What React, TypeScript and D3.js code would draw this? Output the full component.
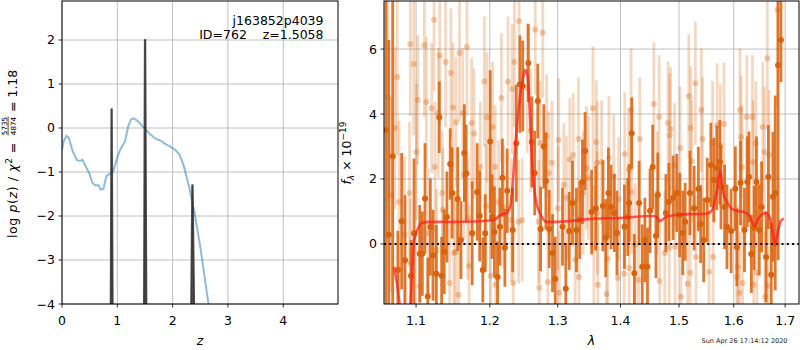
import * as d3 from 'd3'

// log p(z) curve (blue)
const zGrid = [0, 0.03, 0.08, 0.12, 0.2, 0.27, 0.33, 0.37, 0.42, 0.5, 0.55, 0.6, 0.66, 0.7, 0.75, 0.8, 0.85, 0.92, 0.98, 1.05, 1.14, 1.2, 1.25, 1.3, 1.38, 1.45, 1.5, 1.6, 1.7, 1.8, 1.85, 1.95, 2.05, 2.12, 2.2, 2.3, 2.4, 2.5, 2.58, 2.66]
const logPz = [-0.5, -0.3, -0.18, -0.22, -0.55, -0.73, -0.75, -0.72, -0.85, -1.05, -1.25, -1.3, -1.3, -1.4, -1.38, -1.1, -1.05, -1.0, -0.75, -0.5, -0.3, 0.05, 0.2, 0.22, 0.15, 0.05, -0.02, -0.15, -0.25, -0.3, -0.35, -0.42, -0.5, -0.6, -0.85, -1.35, -1.95, -2.7, -3.4, -4.1]

// zoomed fit peaks (dark spikes)
const spikes: [number, number][][] = [
  [[0.878, -4.2], [0.893, 0.43], [0.902, 0.43], [0.918, -4.2]],
  [[1.48, -4.2], [1.497, 2.0], [1.507, 2.0], [1.528, -4.2]],
  [[2.333, -4.2], [2.353, -1.3], [2.364, -1.3], [2.392, -4.2]],
]

const zTicks = [0, 1, 2, 3, 4]
const pTicks = [-4, -3, -2, -1, 0, 1, 2]
const lamTicks = [1.1, 1.2, 1.3, 1.4, 1.5, 1.6, 1.7]
const fTicks = [0, 2, 4, 6]

// spectrum, first orientation: [lambda, flux, err]
const specDark: [number, number, number][] = [
  [1.0617, 3.5, 6], [1.0652, 0.28, 6], [1.0701, 2.7, 5], [1.0767, -0.8, 1.2], [1.0815, 0.7, 2.1],
  [1.0858, -0.5, 2.0], [1.0935, -0.98, 1.1], [1.0974, 0.33, 2.3], [1.1048, -0.3, 1.5], [1.1082, -0.3, 1.3],
  [1.1117, 1.4, 1.7], [1.1153, -1.62, 1.2], [1.1187, 0.52, 1.5], [1.1222, -0.35, 1.4], [1.1265, -0.92, 1.5],
  [1.1306, 3.9, 1.1], [1.1337, -0.98, 1.2], [1.1372, -0.24, 1.3], [1.1408, 0.83, 1.4], [1.1452, 2.46, 1.1],
  [1.1478, 1.57, 1.4], [1.1554, 1.38, 1.6], [1.1598, 0.12, 1.2], [1.1645, 2.8, 1.5], [1.167, 2.17, 1.5],
  [1.1753, 0.33, 1.6], [1.1823, 1.6, 1.5], [1.1857, 0.86, 1.4], [1.1901, -0.8, 1.0], [1.1935, 0.33, 1.2],
  [1.2005, 3.15, 2.2], [1.2031, 0.84, 1.3], [1.2065, 0.37, 1.4], [1.211, -1.02, 1.1], [1.2144, 0.53, 1.2],
  [1.2179, 2.04, 1.2], [1.2215, -0.12, 1.2], [1.2249, 1.64, 1.3], [1.2328, 0.43, 1.3], [1.2381, 3.1, 1.8],
  [1.2434, 4.92, 1.5], [1.2475, 4.86, 1.4], [1.2558, 5.57, 1.2], [1.2609, 3.14, 1.4], [1.2652, 2.18, 1.3],
  [1.2698, 4.4, 1.15], [1.2741, 0.46, 1.3], [1.2789, 3.0, 1.3], [1.282, 1.94, 1.5], [1.2871, 0.46, 1.2],
  [1.2921, -0.28, 1.2], [1.2962, -1.08, 1.3], [1.3074, 0.53, 1.2], [1.3125, -1.38, 1.4], [1.3178, 0.4, 1.2],
  [1.3229, 1.26, 1.3], [1.3291, 0.43, 1.3], [1.3343, 0.74, 1.2], [1.3385, 1.91, 1.3], [1.3427, 2.86, 1.2],
  [1.3531, 0.98, 1.3], [1.3597, 1.1, 1.3], [1.3713, 1.17, 1.4], [1.3757, 0.18, 1.2], [1.3801, 1.57, 1.4],
  [1.3844, 1.14, 1.3], [1.3898, 0.95, 1.2], [1.3941, 0.34, 1.3], [1.4065, 0.53, 1.3], [1.412, 0.83, 1.2],
  [1.4142, 1.26, 1.2], [1.4186, 3.41, 1.1], [1.423, -0.9, 1.2], [1.431, 1.26, 1.3], [1.4363, -0.7, 1.3],
  [1.4408, 0.12, 1.3], [1.4452, -0.7, 1.2], [1.4496, 1.02, 1.3], [1.4541, 2.37, 1.3], [1.4597, 0.25, 1.3],
  [1.463, 1.51, 1.3], [1.4769, 0.95, 1.2], [1.4822, 1.29, 1.2], [1.4896, 1.42, 1.3], [1.496, 1.57, 1.2],
  [1.5012, 0.89, 1.3], [1.5066, 0.34, 1.3], [1.5109, 0.68, 1.2], [1.5194, 1.57, 1.3], [1.527, 1.1, 1.3],
  [1.5346, 1.69, 1.3], [1.5388, 0.61, 1.2], [1.5443, 0.12, 1.3], [1.5508, 1.35, 1.3], [1.5574, 2.43, 1.3],
  [1.5628, 1.97, 1.3], [1.5683, 2.34, 1.3], [1.5739, 2.52, 1.3], [1.5761, 1.75, 1.3], [1.5828, 1.14, 1.3],
  [1.5873, 0.53, 1.3], [1.595, 0.4, 1.3], [1.603, 1.7, 1.3], [1.606, -0.1, 1.2], [1.6128, 1.88, 1.3],
  [1.6204, 0.43, 1.3], [1.6258, 1.91, 1.4], [1.6291, 2.06, 1.4], [1.6335, -0.31, 1.2], [1.639, 0.49, 1.3],
  [1.6434, 1.91, 1.4], [1.6489, 0.43, 1.4], [1.6534, 1.14, 1.4], [1.6622, -0.4, 1.4], [1.6667, 2.06, 1.6],
  [1.6723, -0.95, 1.6], [1.6757, 1.45, 2.0], [1.6802, 1.57, 3.0], [1.6859, 5.5, 6], [1.6916, 6.28, 1.3],
]

// spectrum, second orientation (faint)
const specLight: [number, number, number][] = [
  [1.064, 4.5, 3.2], [1.068, 1.5, 3.0], [1.0728, 3.57, 2.5], [1.0757, 5.14, 2.4], [1.0781, 1.29, 2.5],
  [1.085, 0.28, 2.4], [1.0915, 1.57, 2.2], [1.0926, 6.15, 2.2], [1.093, -0.6, 2.0], [1.097, 5.54, 2.2],
  [1.1004, 2.83, 2.1], [1.1022, 4.43, 2.0], [1.105, -1.3, 2.0], [1.1109, 6.12, 2.2], [1.1134, 4.37, 2.0],
  [1.116, 0.33, 2.0], [1.1205, 4.18, 2.0], [1.1236, 6.9, 2.2], [1.1249, 2.37, 2.0], [1.127, -0.2, 1.9],
  [1.1293, 4.03, 2.0], [1.1312, 5.8, 2.1], [1.1345, 1.57, 1.9], [1.1354, 1.05, 1.9], [1.1391, 5.6, 2.0],
  [1.1445, -1.2, 1.9], [1.1461, 5.26, 2.0], [1.149, 4.2, 2.0], [1.1502, -0.28, 1.9], [1.1525, -0.25, 1.9],
  [1.1532, 3.75, 2.0], [1.1565, -1.57, 1.9], [1.1578, 5.88, 2.1], [1.1623, 4.03, 2.0], [1.1641, 2.12, 2.0],
  [1.168, 6.06, 2.1], [1.1693, 0.8, 1.9], [1.1711, -0.68, 1.9], [1.1745, 3.72, 2.0], [1.1779, 3.4, 2.0],
  [1.1867, 2.37, 2.0], [1.1923, 5.0, 2.0], [1.1945, 1.17, 1.9], [1.196, 3.9, 2.0], [1.2013, -0.98, 1.9],
  [1.204, 3.6, 2.0], [1.2075, 2.37, 1.9], [1.2083, -1.26, 1.9], [1.2125, 1.29, 1.9], [1.2165, 4.49, 2.0],
  [1.2196, 1.14, 1.9], [1.226, 5.0, 2.0], [1.231, 0.74, 1.9], [1.232, 4.77, 2.0], [1.2335, -1.2, 1.9],
  [1.2354, 5.6, 2.0], [1.2415, 0.68, 1.9], [1.2421, 6.86, 2.0], [1.2466, 0.74, 1.9], [1.254, 4.8, 2.0],
  [1.2594, 3.5, 1.9], [1.266, 6.6, 2.0], [1.271, 0.68, 1.9], [1.272, -1.35, 1.9], [1.273, 3.11, 1.9],
  [1.2773, 6.5, 2.0], [1.2832, 3.32, 1.9], [1.285, -1.17, 1.9], [1.2863, 2.18, 1.9], [1.2913, 2.5, 1.9],
  [1.3004, 1.1, 1.9], [1.3015, 3.2, 1.9], [1.3025, -1.5, 1.9], [1.3094, 1.82, 1.9], [1.3135, 1.42, 1.9],
  [1.3187, 2.6, 1.9], [1.324, 2.74, 1.9], [1.3271, -0.49, 1.9], [1.3322, 3.23, 1.9], [1.333, -1.02, 1.9],
  [1.3397, 1.57, 1.9], [1.3449, 2.34, 1.9], [1.3481, 2.03, 1.9], [1.3553, 4.18, 1.9], [1.3566, -0.12, 1.9],
  [1.3605, 3.14, 1.9], [1.3617, 2.49, 1.9], [1.3622, 0.95, 1.9], [1.363, -1.26, 1.9], [1.3691, 2.52, 1.9],
  [1.377, -1.54, 1.9], [1.379, -0.46, 1.9], [1.381, 2.65, 1.9], [1.3888, 2.09, 1.9], [1.3955, -1.05, 1.9],
  [1.397, 1.38, 1.9], [1.406, -0.92, 1.9], [1.407, 2.77, 1.9], [1.4135, 2.3, 1.9], [1.4145, -0.74, 1.9],
  [1.4175, 4.12, 1.9], [1.4183, 1.6, 1.9], [1.4245, -0.03, 1.9], [1.43, -1.11, 1.9], [1.4322, 3.23, 1.9],
  [1.4562, 4.31, 1.9], [1.462, 1.57, 1.9], [1.4652, 3.91, 1.9], [1.466, -1.14, 1.9], [1.475, -0.28, 1.9],
  [1.4807, 3.72, 1.9], [1.483, -0.12, 1.9], [1.4835, 3.35, 1.9], [1.4851, 3.54, 1.9], [1.492, 2.43, 1.9],
  [1.493, -0.09, 1.9], [1.502, 2.95, 1.9], [1.5035, -1.63, 1.9], [1.5152, -1.23, 1.9], [1.5174, 4.55, 1.9],
  [1.52, -0.89, 1.9], [1.5206, 3.57, 1.9], [1.5228, 2.55, 1.9], [1.5292, 4.95, 1.9], [1.5303, -0.4, 1.9],
  [1.54, 4.12, 1.9], [1.5422, 3.23, 1.9], [1.5541, -0.86, 1.9], [1.5606, 3.11, 1.9], [1.5615, -0.4, 1.9],
  [1.569, 3.66, 1.9], [1.5749, 3.02, 1.9], [1.5817, 3.69, 1.9], [1.6057, -1.02, 1.9], [1.6078, -0.71, 1.9],
  [1.6111, -1.51, 1.9], [1.6117, 4.12, 1.9], [1.614, 3.29, 1.9], [1.6156, 2.37, 1.9], [1.6167, -1.2, 1.9],
  [1.6248, 3.91, 1.9], [1.6358, 3.91, 1.9], [1.637, 2.52, 1.9], [1.638, -1.26, 1.9], [1.6424, 3.11, 1.9],
  [1.6446, -0.89, 1.9], [1.6557, 3.6, 2.0], [1.659, 2.83, 2.0], [1.6601, -1.63, 2.0], [1.6645, 5.72, 2.2],
  [1.6653, -1.29, 2.0], [1.668, 2.74, 2.0], [1.6846, 7.2, 3.0],
]

// best-fit model (red)
const modelWave = [1.0716, 1.076, 1.0794, 1.086, 1.0931, 1.095, 1.0965, 1.099, 1.1017, 1.105, 1.1082, 1.1192, 1.15, 1.18, 1.2, 1.2062, 1.215, 1.2237, 1.229, 1.2325, 1.2369, 1.2414, 1.247, 1.251, 1.2545, 1.2594, 1.2618, 1.2669, 1.2745, 1.2821, 1.3, 1.3581, 1.4, 1.4531, 1.461, 1.465, 1.47, 1.48, 1.5, 1.53, 1.55, 1.56, 1.568, 1.5745, 1.58, 1.587, 1.595, 1.605, 1.62, 1.63, 1.64, 1.645, 1.655, 1.662, 1.67, 1.676, 1.68, 1.685, 1.691, 1.6975]
const modelFlux = [-0.7, -1.3, -1.95, -3.0, -1.85, -0.8, -0.08, 0.25, 0.43, 0.58, 0.65, 0.68, 0.68, 0.69, 0.72, 0.74, 0.89, 0.95, 1.14, 1.75, 3.1, 4.12, 5.0, 5.35, 5.2, 3.4, 2.37, 1.35, 0.89, 0.68, 0.68, 0.78, 0.8, 0.86, 0.84, 0.7, 0.74, 0.85, 0.9, 0.92, 0.93, 1.05, 1.6, 2.25, 1.6, 1.3, 1.1, 1.02, 0.98, 0.85, 0.55, 0.72, 0.92, 0.95, 0.78, 0.3, -0.05, 0.35, 0.7, 0.78]

const FONT = "'DejaVu Sans', sans-serif"
const ORANGE = '#d9620c'
const GRID = '#b0b0b0'

export default function App() {
  const pz = { left: 62, right: 338, top: 1, bottom: 304 }
  const sp = { left: 384, right: 799, top: 1, bottom: 304 }

  const xz = d3.scaleLinear().domain([0, 4.99]).range([pz.left, pz.right])
  const yz = d3.scaleLinear().domain([-4, 2.886]).range([pz.bottom, pz.top])
  const xl = d3.scaleLog().domain([1.0592, 1.728]).range([sp.left, sp.right])
  const yf = d3.scaleLinear().domain([-1.85, 7.48]).range([sp.bottom, sp.top])

  const fmtInt = d3.format('d')
  const fmtLam = d3.format('.1f')

  const pzLine = d3
    .line<number>()
    .x((_, i) => xz(zGrid[i]))
    .y((d) => yz(d))(logPz)
  const spikeLine = d3
    .line<[number, number]>()
    .x((d) => xz(d[0]))
    .y((d) => yz(d[1]))
  const modelLine = d3
    .line<number>()
    .x((_, i) => xl(modelWave[i]))
    .y((d) => yf(d))
    .curve(d3.curveMonotoneX)(modelFlux)

  const errorbars = (data: [number, number, number][], alpha: number, dotAlpha: number, key: string) => (
    <g key={key}>
      {data.map(([l, f, e], i) => (
        <line key={'b' + i} x1={xl(l)} x2={xl(l)} y1={yf(f - e)} y2={yf(f + e)} stroke={ORANGE} strokeOpacity={alpha} strokeWidth={2.8} />
      ))}
      {data.map(([l, f], i) => (
        <circle key={'c' + i} cx={xl(l)} cy={yf(f)} r={3} fill={ORANGE} fillOpacity={dotAlpha} />
      ))}
    </g>
  )

  return (
    <svg width={800} height={350} style={{ position: 'absolute', left: 0, top: 0, background: '#fff' }} fontFamily={FONT}>
      <defs>
        <clipPath id="clipZ">
          <rect x={pz.left} y={pz.top} width={pz.right - pz.left} height={pz.bottom - pz.top} />
        </clipPath>
        <clipPath id="clipS">
          <rect x={sp.left} y={sp.top} width={sp.right - sp.left} height={sp.bottom - sp.top} />
        </clipPath>
      </defs>

      {/* p(z) panel */}
      <g>
        {zTicks.map((t) => (
          <line key={'gz' + t} x1={xz(t)} x2={xz(t)} y1={pz.top} y2={pz.bottom} stroke={GRID} strokeWidth={0.8} />
        ))}
        {pTicks.map((t) => (
          <line key={'gp' + t} x1={pz.left} x2={pz.right} y1={yz(t)} y2={yz(t)} stroke={GRID} strokeWidth={0.8} />
        ))}
        <g clipPath="url(#clipZ)">
          <path d={pzLine ?? ''} fill="none" stroke="#1f77b4" strokeOpacity={0.5} strokeWidth={2} />
          {spikes.map((s, i) => (
            <path key={'sp' + i} d={spikeLine(s) ?? ''} fill="#333" fillOpacity={0.85} stroke="#333" strokeOpacity={0.85} strokeWidth={1.8} strokeLinejoin="round" />
          ))}
        </g>
        <rect x={pz.left} y={pz.top} width={pz.right - pz.left} height={pz.bottom - pz.top} fill="none" stroke="#000" strokeWidth={1} />
        {zTicks.map((t) => (
          <g key={'tz' + t}>
            <line x1={xz(t)} x2={xz(t)} y1={pz.bottom} y2={pz.bottom + 3.5} stroke="#000" strokeWidth={0.8} />
            <text x={xz(t)} y={324.5} fontSize={12.5} textAnchor="middle">
              {fmtInt(t)}
            </text>
          </g>
        ))}
        {pTicks.map((t) => (
          <g key={'tp' + t}>
            <line x1={pz.left - 3.5} x2={pz.left} y1={yz(t)} y2={yz(t)} stroke="#000" strokeWidth={0.8} />
            <text x={pz.left - 7} y={yz(t) + 4.5} fontSize={12.5} textAnchor="end">
              {fmtInt(t)}
            </text>
          </g>
        ))}
        <text x={323.5} y={25} fontSize={12.5} textAnchor="end">
          j163852p4039
        </text>
        <text x={323.5} y={38.5} fontSize={12.5} textAnchor="end" style={{ whiteSpace: 'pre' }}>
          {'ID=762    z=1.5058'}
        </text>
        <text x={200} y={345} fontSize={12.5} fontStyle="italic" textAnchor="middle">
          z
        </text>
        <g transform="translate(16.5,153) rotate(-90)">
          <text x={-85} y={0} fontSize={12.5} textLength={80} lengthAdjust="spacing">
            log <tspan fontStyle="italic">p</tspan>(<tspan fontStyle="italic">z</tspan>) / <tspan fontStyle="italic">χ</tspan>
            <tspan dy={-5} fontSize={9}>
              2
            </tspan>
          </text>
          <text x={5} y={0} fontSize={12.5} textAnchor="middle">
            =
          </text>
          <text x={27} y={-10} fontSize={7.2} textAnchor="middle">
            5735
          </text>
          <line x1={17.5} x2={36.5} y1={-8.4} y2={-8.4} stroke="#000" strokeWidth={0.7} />
          <text x={27} y={-1} fontSize={7.2} textAnchor="middle">
            4874
          </text>
          <text x={41} y={0} fontSize={12.5}>
            = 1.18
          </text>
        </g>
      </g>

      {/* spectrum panel */}
      <g>
        {lamTicks.map((t) => (
          <line key={'gl' + t} x1={xl(t)} x2={xl(t)} y1={sp.top} y2={sp.bottom} stroke={GRID} strokeWidth={0.8} />
        ))}
        {fTicks.map((t) => (
          <line key={'gf' + t} x1={sp.left} x2={sp.right} y1={yf(t)} y2={yf(t)} stroke={GRID} strokeWidth={0.8} />
        ))}
        <g clipPath="url(#clipS)">
          {errorbars(specLight, 0.25, 0.32, 'light')}
          {errorbars(specDark, 0.85, 1, 'dark')}
          <path d={modelLine ?? ''} fill="none" stroke="#ff1a1a" strokeOpacity={0.7} strokeWidth={2.6} />
          <line x1={sp.left} x2={sp.right} y1={yf(0)} y2={yf(0)} stroke="#000" strokeWidth={2} strokeDasharray="2,3.3" />
        </g>
        <rect x={sp.left} y={sp.top} width={sp.right - sp.left} height={sp.bottom - sp.top} fill="none" stroke="#000" strokeWidth={1} />
        {lamTicks.map((t) => (
          <g key={'tl' + t}>
            <line x1={xl(t)} x2={xl(t)} y1={sp.bottom} y2={sp.bottom + 3.5} stroke="#000" strokeWidth={0.8} />
            <text x={xl(t)} y={324.5} fontSize={12.5} textAnchor="middle">
              {fmtLam(t)}
            </text>
          </g>
        ))}
        {fTicks.map((t) => (
          <g key={'tf' + t}>
            <line x1={sp.left - 3.5} x2={sp.left} y1={yf(t)} y2={yf(t)} stroke="#000" strokeWidth={0.8} />
            <text x={sp.left - 7} y={yf(t) + 4.5} fontSize={12.5} textAnchor="end">
              {fmtInt(t)}
            </text>
          </g>
        ))}
        <text x={591.5} y={345} fontSize={12.5} fontStyle="italic" textAnchor="middle">
          λ
        </text>
        <g transform="translate(351,153) rotate(-90)">
          <text x={0} y={0} fontSize={12.5} textAnchor="middle">
            <tspan fontStyle="italic">f</tspan>
            <tspan dy={3} fontSize={9} fontStyle="italic">
              λ
            </tspan>
            <tspan dy={-3}> × 10</tspan>
            <tspan dy={-5} fontSize={9}>
              −19
            </tspan>
          </text>
        </g>
        <text x={787.5} y={342.5} fontSize={6.5} textAnchor="end" fill="#222">
          Sun Apr 26 17:14:12 2020
        </text>
      </g>
    </svg>
  )
}
